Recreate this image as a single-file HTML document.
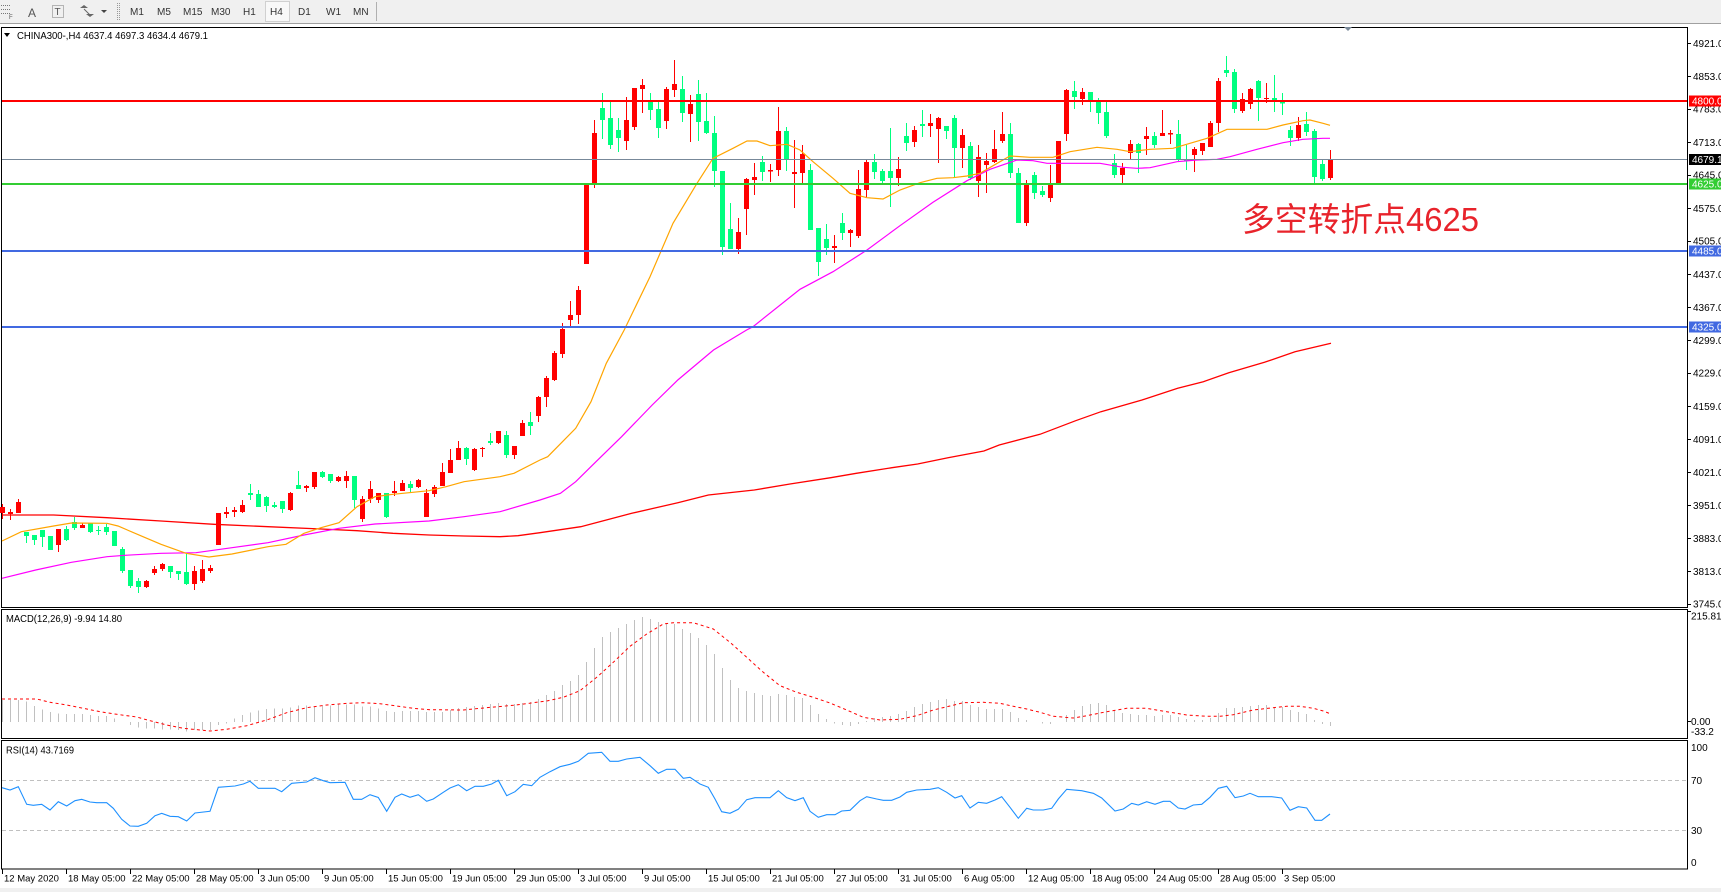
<!DOCTYPE html>
<html><head><meta charset="utf-8"><style>
html,body{margin:0;padding:0;background:#fff;overflow:hidden}
svg{display:block}
</style></head><body>
<svg width="1721" height="892" viewBox="0 0 1721 892" xmlns="http://www.w3.org/2000/svg" font-family="'Liberation Sans', sans-serif">
<!-- toolbar -->
<rect x="0" y="0" width="1721" height="23" fill="#F0F0F0"/>
<line x1="0" y1="23.5" x2="1721" y2="23.5" stroke="#A0A0A0"/>
<g stroke="#777" stroke-dasharray="1,1">
<line x1="1" y1="5.5" x2="10" y2="5.5"/><line x1="1" y1="9.5" x2="10" y2="9.5"/><line x1="1" y1="13.5" x2="10" y2="13.5"/>
</g>
<text x="9" y="19" font-size="6" fill="#555">F</text>
<text x="28" y="17" font-size="12" fill="#555">A</text>
<rect x="52.5" y="5.5" width="11" height="12" fill="none" stroke="#777" stroke-dasharray="1,1"/>
<text x="54.5" y="15" font-size="10" fill="#555">T</text>
<path d="M80 8l4-3 4 3zM86 14l4 3 4-3z" fill="#666"/>
<path d="M84 9l6 6" stroke="#666"/>
<path d="M101 10h6l-3 3z" fill="#444"/>
<line x1="117.5" y1="3" x2="117.5" y2="21" stroke="#999" stroke-dasharray="1,1"/>
<line x1="119.5" y1="3" x2="119.5" y2="21" stroke="#999" stroke-dasharray="1,1"/>
<rect x="265.5" y="1.5" width="24" height="20" fill="#F8F8F8" stroke="#D0D0D0"/>
<g font-size="10" fill="#333">
<text x="130" y="15">M1</text><text x="157" y="15">M5</text><text x="183" y="15">M15</text><text x="211" y="15">M30</text><text x="243" y="15">H1</text><text x="270" y="15">H4</text><text x="298" y="15">D1</text><text x="326" y="15">W1</text><text x="353" y="15">MN</text>
</g>
<line x1="376.5" y1="2" x2="376.5" y2="21" stroke="#B0B0B0"/>

<!-- frames -->
<rect x="1.5" y="27.5" width="1686" height="580" fill="none" stroke="#000"/>
<rect x="1.5" y="609.5" width="1686" height="129" fill="none" stroke="#000"/>
<rect x="1.5" y="740.5" width="1686" height="128.5" fill="none" stroke="#000"/>
<polygon points="1344,27 1352,27 1348,31" fill="#7A8A9A"/>

<!-- title -->
<polygon points="4,33 10,33 7,37" fill="#000"/>
<text x="17" y="39" font-size="10" fill="#000" textLength="191" lengthAdjust="spacingAndGlyphs">CHINA300-,H4  4637.4 4697.3 4634.4 4679.1</text>

<!-- candles -->
<path shape-rendering="crispEdges" fill="#FF0000" d="M2 504h1V519h-1zM0 507h5V513h-5zM10 509h1V520h-1zM8 512h5V514h-5zM18 499h1V513h-1zM16 502h5V513h-5zM58 529h1V552h-1zM56 529h5V545h-5zM82 523h1V528h-1zM80 525h5V528h-5zM146 580h1V588h-1zM144 581h5V587h-5zM154 566h1V575h-1zM152 569h5V573h-5zM162 563h1V571h-1zM160 564h5V569h-5zM194 566h1V590h-1zM192 571h5V584h-5zM202 560h1V583h-1zM200 569h5V581h-5zM210 565h1V573h-1zM208 568h5V571h-5zM216 513h5V545h-5zM226 507h1V518h-1zM224 512h5V514h-5zM234 507h1V517h-1zM232 510h5V512h-5zM242 500h1V513h-1zM240 505h5V512h-5zM290 492h1V511h-1zM288 493h5V510h-5zM306 485h1V492h-1zM304 486h5V488h-5zM314 472h1V489h-1zM312 472h5V487h-5zM338 476h1V482h-1zM336 477h5V481h-5zM346 471h1V488h-1zM344 476h5V481h-5zM362 496h1V522h-1zM360 499h5V519h-5zM370 481h1V503h-1zM368 489h5V499h-5zM378 493h1V503h-1zM376 493h5V500h-5zM394 481h1V496h-1zM392 491h5V493h-5zM402 480h1V491h-1zM400 483h5V491h-5zM418 479h1V488h-1zM416 480h5V487h-5zM426 489h1V517h-1zM424 493h5V517h-5zM434 485h1V497h-1zM432 487h5V494h-5zM442 463h1V486h-1zM440 472h5V486h-5zM450 449h1V473h-1zM448 460h5V473h-5zM458 441h1V460h-1zM456 448h5V460h-5zM474 448h1V471h-1zM472 449h5V470h-5zM482 447h1V457h-1zM480 448h5V449h-5zM498 431h1V444h-1zM496 431h5V443h-5zM514 446h1V459h-1zM512 446h5V455h-5zM522 420h1V436h-1zM520 423h5V436h-5zM538 396h1V422h-1zM536 397h5V416h-5zM546 376h1V407h-1zM544 378h5V397h-5zM554 351h1V381h-1zM552 353h5V380h-5zM562 323h1V358h-1zM560 329h5V354h-5zM570 301h1V326h-1zM568 315h5V320h-5zM578 286h1V324h-1zM576 290h5V315h-5zM584 184h5V264h-5zM594 120h1V188h-1zM592 133h5V184h-5zM626 97h1V150h-1zM624 120h5V141h-5zM634 88h1V130h-1zM632 88h5V127h-5zM642 79h1V113h-1zM640 85h5V89h-5zM666 87h1V129h-1zM664 89h5V121h-5zM674 60h1V97h-1zM672 84h5V90h-5zM690 95h1V142h-1zM688 104h5V114h-5zM738 218h1V254h-1zM736 232h5V249h-5zM746 178h1V235h-1zM744 179h5V209h-5zM754 163h1V195h-1zM752 177h5V180h-5zM770 164h1V182h-1zM768 170h5V171.5h-5zM778 107h1V176h-1zM776 131h5V170h-5zM794 140h1V208h-1zM792 172h5V174h-5zM802 145h1V183h-1zM800 154h5V173h-5zM834 235h1V263h-1zM832 246h5V248h-5zM850 229h1V247h-1zM848 230h5V233h-5zM858 170h1V238h-1zM856 189h5V236h-5zM866 159h1V197h-1zM864 162h5V190h-5zM898 157h1V186h-1zM896 169h5V178h-5zM914 126h1V147h-1zM912 130h5V142h-5zM930 114h1V137h-1zM928 123h5V126h-5zM938 117h1V163h-1zM936 118h5V129h-5zM962 129h1V168h-1zM960 135h5V148h-5zM978 145h1V197h-1zM976 157h5V181h-5zM986 153h1V193h-1zM984 161h5V165h-5zM994 130h1V163h-1zM992 149h5V162h-5zM1002 112h1V143h-1zM1000 134h5V141h-5zM1026 180h1V226h-1zM1024 184h5V223h-5zM1050 165h1V202h-1zM1048 184h5V198h-5zM1056 141h5V183h-5zM1066 89h1V141h-1zM1064 90h5V134h-5zM1082 88h1V105h-1zM1080 92h5V99h-5zM1122 163h1V183h-1zM1120 168h5V175h-5zM1130 140h1V159h-1zM1128 144h5V153h-5zM1146 127h1V155h-1zM1144 136h5V139h-5zM1162 110h1V136h-1zM1160 133h5V136h-5zM1170 130h1V144h-1zM1168 133h5V134.5h-5zM1194 147h1V172h-1zM1192 149h5V155h-5zM1202 143h1V155h-1zM1200 143h5V151h-5zM1210 121h1V147h-1zM1208 123h5V147h-5zM1218 78h1V132h-1zM1216 81h5V123h-5zM1242 93h1V113h-1zM1240 99h5V111h-5zM1250 88h1V109h-1zM1248 89h5V104h-5zM1266 83h1V103h-1zM1264 98h5V99h-5zM1298 117h1V141h-1zM1296 125h5V138h-5zM1330 150h1V180h-1zM1328 159h5V178h-5z"/>
<path shape-rendering="crispEdges" fill="#00FF7F" d="M26 532h1V543h-1zM24 532h5V536h-5zM34 535h1V545h-1zM32 535h5V540h-5zM42 530h1V547h-1zM40 530h5V537h-5zM48 536h5V550h-5zM66 526h1V541h-1zM64 529h5V540h-5zM74 517h1V530h-1zM72 522h5V528h-5zM90 523h1V533h-1zM88 523h5V532h-5zM98 526h1V535h-1zM96 530h5V531h-5zM106 524h1V535h-1zM104 527h5V532h-5zM112 531h5V546h-5zM122 547h1V573h-1zM120 549h5V571h-5zM130 570h1V588h-1zM128 570h5V586h-5zM138 578h1V593h-1zM136 581h5V587h-5zM170 566h1V578h-1zM168 566h5V572h-5zM178 571h1V580h-1zM176 571h5V574h-5zM186 553h1V585h-1zM184 572h5V584h-5zM250 484h1V500h-1zM248 493h5V495h-5zM258 490h1V507h-1zM256 494h5V507h-5zM266 496h1V512h-1zM264 497h5V506h-5zM274 502h1V508h-1zM272 505h5V507h-5zM282 501h1V513h-1zM280 501h5V509h-5zM298 471h1V489h-1zM296 485h5V489h-5zM322 471h1V478h-1zM320 472h5V477h-5zM330 474h1V483h-1zM328 474h5V481h-5zM354 476h1V508h-1zM352 476h5V500h-5zM386 493h1V518h-1zM384 493h5V517h-5zM410 481h1V492h-1zM408 484h5V488h-5zM466 447h1V465h-1zM464 448h5V459h-5zM490 433h1V445h-1zM488 441h5V443h-5zM506 431h1V458h-1zM504 435h5V455h-5zM530 412h1V435h-1zM528 422h5V426h-5zM602 93h1V139h-1zM600 108h5V120h-5zM610 102h1V149h-1zM608 118h5V145h-5zM618 118h1V152h-1zM616 130h5V138h-5zM650 93h1V120h-1zM648 102h5V110h-5zM658 102h1V138h-1zM656 109h5V128h-5zM682 76h1V122h-1zM680 89h5V113h-5zM698 80h1V141h-1zM696 94h5V122h-5zM706 93h1V134h-1zM704 121h5V133h-5zM714 116h1V187h-1zM712 133h5V171h-5zM722 171h1V255h-1zM720 171h5V247h-5zM730 203h1V249h-1zM728 229h5V249h-5zM762 156h1V181h-1zM760 162h5V172h-5zM786 127h1V171h-1zM784 131h5V159h-5zM810 164h1V230h-1zM808 170h5V230h-5zM818 228h1V276h-1zM816 228h5V262h-5zM826 224h1V255h-1zM824 239h5V248h-5zM842 213h1V240h-1zM840 223h5V233h-5zM874 154h1V179h-1zM872 162h5V172h-5zM882 169h1V183h-1zM880 171h5V181h-5zM890 128h1V207h-1zM888 171h5V178h-5zM906 123h1V151h-1zM904 136h5V143h-5zM922 110h1V137h-1zM920 124h5V126h-5zM946 126h1V139h-1zM944 126h5V131h-5zM954 115h1V178h-1zM952 118h5V148h-5zM970 142h1V180h-1zM968 146h5V178h-5zM1010 123h1V178h-1zM1008 134h5V173h-5zM1018 168h1V223h-1zM1016 173h5V223h-5zM1034 172h1V199h-1zM1032 175h5V193h-5zM1042 186h1V197h-1zM1040 191h5V195h-5zM1074 81h1V109h-1zM1072 91h5V97h-5zM1090 92h1V112h-1zM1088 92h5V100h-5zM1098 98h1V124h-1zM1096 101h5V113h-5zM1106 102h1V138h-1zM1104 112h5V136h-5zM1114 154h1V178h-1zM1112 163h5V175h-5zM1138 143h1V173h-1zM1136 144h5V153h-5zM1154 132h1V148h-1zM1152 136h5V145h-5zM1178 120h1V161h-1zM1176 134h5V160h-5zM1186 145h1V170h-1zM1184 159h5V161h-5zM1226 56h1V77h-1zM1224 70h5V73h-5zM1234 69h1V113h-1zM1232 72h5V109h-5zM1258 80h1V121h-1zM1256 81h5V98h-5zM1274 75h1V112h-1zM1272 98h5V100h-5zM1282 93h1V115h-1zM1280 102h5V103.5h-5zM1290 126h1V146h-1zM1288 130h5V138h-5zM1306 112h1V136h-1zM1304 124h5V132h-5zM1314 129h1V183h-1zM1312 131h5V177h-5zM1322 159h1V181h-1zM1320 164h5V179h-5z"/>

<!-- moving averages -->
<polyline fill="none" stroke="#FF0000" stroke-width="1.3" points="2,515 53.6,515 107,517.7 161,521 214,524.3 268,526.7 321,529 357,530.7 393,533.3 429,535 464,536 500,536.7 518,535.7 540,532.7 580.8,526.7 631.8,513.3 677.8,502.7 708.4,495 754.3,490 790,484 830.8,477.7 856.3,473.3 892,467.7 917.6,464 948,457.7 983.9,451 999.2,445 1040,434.3 1075.7,420.7 1101,411.7 1142,400 1177.7,388.3 1203.3,381.7 1228.8,372.7 1264.5,362.3 1295,351.7 1331,343.3"/>
<polyline fill="none" stroke="#FF00FF" stroke-width="1.2" points="2,578.3 35.7,570 71.4,562.3 107,556.7 125,555.3 161,553.3 196,552.7 232,547.7 268,542.7 304,535 339,528.3 375,524 429,521 464,516.7 500,511.7 540,500 560.4,493.3 575.7,481.7 596,461.7 621.6,436.7 652.2,405 677.8,380 713.5,350 746.6,330 753,326.7 800,289.3 833,271.7 867,250 900,225.7 933,202.3 967,180.7 990,169.3 1017,160 1033,160.7 1047,163.3 1100,163.3 1123,167.3 1137,168.3 1150,167.7 1177,161.7 1197,160 1217,159.3 1230,156.7 1257,149.3 1283,142.7 1303,139.3 1323,138.3 1330,138.3"/>
<polyline fill="none" stroke="#FFA500" stroke-width="1.2" points="2,541 21.4,531.7 53.6,526 71.4,523 107,523.3 118,526 143,536.7 161,544.3 186,553.3 209,557 232,554 268,546.7 286,544.3 304,533.3 321,527.7 339,522.7 357,506.7 375,496.7 393,494.3 429,490.7 446,486.7 464,481.7 500,476.7 514,473.3 540,460 547.7,456.7 575.7,428.3 591,401.7 606.3,363.3 624.2,330 650,276.7 673,223.3 697,183.3 713,158.3 733,148.3 747,141 757,141 770,145.7 787,144.3 800,150 813,161.7 833,178.3 850,193.3 867,197.7 883,199 900,190 920,182.7 937,178.3 953,177.7 967,176 980,173.3 1000,161.7 1010,156 1030,157.3 1053,157.3 1070,151.7 1097,147.3 1117,149.3 1130,151.7 1150,149.3 1173,148.3 1190,143.3 1207,138.3 1227,129.3 1267,129.3 1283,125 1303,120.7 1310,120 1323,123.3 1330,125.3"/>

<!-- horizontal levels -->
<g shape-rendering="crispEdges">
<rect x="2" y="100" width="1685" height="2" fill="#FF0000"/>
<rect x="2" y="159" width="1685" height="1" fill="#778899"/>
<rect x="2" y="183" width="1685" height="2" fill="#32CD32"/>
<rect x="2" y="250" width="1685" height="2" fill="#4169E1"/>
<rect x="2" y="326" width="1685" height="2" fill="#4169E1"/>
</g>

<!-- price axis -->
<g stroke="#000" shape-rendering="crispEdges">
<path d="M1687 43.5h4M1687 76.5h4M1687 109.5h4M1687 142.5h4M1687 175.5h4M1687 208.5h4M1687 241.5h4M1687 274.5h4M1687 307.5h4M1687 340.5h4M1687 373.5h4M1687 406.5h4M1687 439.5h4M1687 472.5h4M1687 505.5h4M1687 538.5h4M1687 571.5h4M1687 604.5h4M1687 721.5h4M1687 611.5h4"/>
</g>
<g font-size="10" fill="#000">
<text x="1693" y="47">4921.0</text>
<text x="1693" y="80">4853.0</text>
<text x="1693" y="112.5">4783.0</text>
<text x="1693" y="146">4713.0</text>
<text x="1693" y="178.5">4645.0</text>
<text x="1693" y="212">4575.0</text>
<text x="1693" y="244.5">4505.0</text>
<text x="1693" y="278">4437.0</text>
<text x="1693" y="311">4367.0</text>
<text x="1693" y="344">4299.0</text>
<text x="1693" y="376.5">4229.0</text>
<text x="1693" y="410">4159.0</text>
<text x="1693" y="443">4091.0</text>
<text x="1693" y="476">4021.0</text>
<text x="1693" y="509">3951.0</text>
<text x="1693" y="542">3883.0</text>
<text x="1693" y="575">3813.0</text>
<text x="1693" y="607.5">3745.0</text>
</g>
<g shape-rendering="crispEdges">
<rect x="1689" y="95.5" width="32" height="11" fill="#FF0000"/>
<rect x="1689" y="154" width="32" height="11" fill="#000"/>
<rect x="1689" y="178.5" width="32" height="11" fill="#32CD32"/>
<rect x="1689" y="245.5" width="32" height="11" fill="#4169E1"/>
<rect x="1689" y="321.5" width="32" height="11" fill="#4169E1"/>
</g>
<g font-size="10" fill="#fff">
<text x="1692" y="104.5">4800.0</text>
<text x="1692" y="163">4679.1</text>
<text x="1692" y="187.5">4625.0</text>
<text x="1692" y="254.5">4485.0</text>
<text x="1692" y="330.5">4325.0</text>
</g>

<!-- annotation -->
<text x="1242" y="231" font-size="33" fill="#E8232B" font-family="'Liberation Sans','Noto Sans CJK SC',sans-serif" textLength="237" lengthAdjust="spacingAndGlyphs">多空转折点4625</text>

<!-- MACD -->
<text x="6" y="622" font-size="10" fill="#000" textLength="116" lengthAdjust="spacingAndGlyphs">MACD(12,26,9) -9.94 14.80</text>
<path fill="none" stroke="#C0C0C0" stroke-width="1" shape-rendering="crispEdges" d="M2.5 700V722M10.5 700V722M18.5 700V722M26.5 701.7V722M34.5 706V722M42.5 709.3V722M50.5 712V722M58.5 713.3V722M66.5 714V722M74.5 714V722M82.5 714V722M90.5 715V722M98.5 716V722M106.5 716V722M114.5 718.3V722M130.5 725V722M138.5 727.3V722M146.5 728.7V722M154.5 728.7V722M162.5 729.3V722M170.5 729.3V722M178.5 730V722M186.5 731.3V722M194.5 730V722M202.5 730V722M210.5 730V722M218.5 725V722M226.5 723.3V722M234.5 718.3V722M242.5 715V722M250.5 712.7V722M258.5 710.7V722M266.5 709V722M274.5 708.3V722M282.5 708.3V722M290.5 707.3V722M298.5 705.3V722M306.5 705.3V722M314.5 706.7V722M322.5 705.3V722M330.5 705.3V722M338.5 704.7V722M346.5 704.7V722M354.5 704.7V722M362.5 706.7V722M370.5 706.7V722M378.5 708.3V722M386.5 711V722M394.5 712V722M402.5 711V722M410.5 711V722M418.5 711V722M426.5 712V722M434.5 712V722M442.5 712V722M450.5 710V722M458.5 708V722M466.5 707V722M474.5 706V722M482.5 705V722M490.5 704V722M498.5 703V722M506.5 704V722M514.5 704V722M522.5 703V722M530.5 702V722M538.5 699V722M546.5 695V722M554.5 691V722M562.5 685V722M570.5 681V722M578.5 675V722M586.5 662V722M594.5 648V722M602.5 637V722M610.5 632V722M618.5 628V722M626.5 624V722M634.5 620V722M642.5 617V722M650.5 619V722M658.5 622V722M666.5 623V722M674.5 624V722M682.5 629V722M690.5 633V722M698.5 638V722M706.5 645V722M714.5 654V722M722.5 668V722M730.5 680V722M738.5 688V722M746.5 691V722M754.5 693V722M762.5 695V722M770.5 696V722M778.5 694V722M786.5 695V722M794.5 697V722M802.5 698V722M810.5 705V722M818.5 714V722M826.5 719V722M834.5 723.5V722M842.5 725V722M850.5 726V722M858.5 724V722M866.5 721V722M874.5 718V722M882.5 717V722M890.5 716V722M898.5 714V722M906.5 711V722M914.5 707V722M922.5 704V722M930.5 702V722M938.5 700V722M946.5 699V722M954.5 701V722M962.5 701V722M970.5 705V722M978.5 707V722M986.5 709V722M994.5 709V722M1002.5 709V722M1010.5 712V722M1018.5 718V722M1026.5 720V722M1042.5 723.5V722M1050.5 724V722M1066.5 715V722M1074.5 710V722M1082.5 706V722M1090.5 704V722M1098.5 703V722M1106.5 705V722M1114.5 710V722M1122.5 713V722M1130.5 714V722M1138.5 715V722M1146.5 715V722M1154.5 716V722M1162.5 715V722M1170.5 715V722M1178.5 717V722M1186.5 719V722M1194.5 720V722M1202.5 720V722M1210.5 718V722M1218.5 713V722M1226.5 708V722M1234.5 708V722M1242.5 707V722M1250.5 706V722M1258.5 705V722M1266.5 705V722M1274.5 707V722M1282.5 707V722M1290.5 710V722M1298.5 712V722M1306.5 714V722M1314.5 720V722M1322.5 724V722M1330.5 726V722"/>
<polyline fill="none" stroke="#FF0000" stroke-width="1" stroke-dasharray="3,3" points="2,699 36.7,699 50,702.3 66.7,705 83.3,708.3 100,711.7 116.7,714.3 136.7,717 150,720.7 166.7,725 183.3,728.3 200,730 210,731 226.7,729.3 246.7,725.7 266.7,720 286.7,712.7 306.7,707.7 326.7,705 346.7,703.3 363.3,702.7 380,703.7 413.3,708.3 430,709.7 463.3,710 480,708.3 513.3,705.3 546.7,701 563.3,697.3 580,690.7 596.7,677.3 613.3,662.3 630,646.3 646.7,634 663.3,624 673.3,622.7 693.3,622.7 713.3,629 730,642.3 746.7,657.3 763.3,672.3 780,685.7 796.7,692.3 813.3,697.3 830,703 846.7,710 863.3,717.3 880,720 900,719.3 916.7,715.7 933.3,710 950,706 963.3,702.7 983.3,702.3 1000,703.3 1013.3,706.3 1026.7,709 1040,712.3 1053.3,716.3 1073.3,718 1086.7,715.7 1106.7,711.7 1126.7,708.3 1146.7,708.3 1166.7,711.7 1186.7,715 1206.7,716.3 1220,716.3 1233.3,714.7 1253.3,710 1273.3,707.7 1286.7,706.3 1300,706.3 1313.3,708.3 1323.3,711 1330,713.7"/>
<g font-size="10" fill="#000">
<text x="1691" y="619.5">215.81</text>
<text x="1691" y="725">0.00</text>
<text x="1691" y="735">-33.2</text>
</g>

<!-- RSI -->
<text x="6" y="753.5" font-size="10" fill="#000" textLength="68" lengthAdjust="spacingAndGlyphs">RSI(14) 43.7169</text>
<line x1="2" y1="780.5" x2="1687" y2="780.5" stroke="#C0C0C0" stroke-dasharray="4,3"/>
<line x1="2" y1="830.5" x2="1687" y2="830.5" stroke="#C0C0C0" stroke-dasharray="4,3"/>
<polyline fill="none" stroke="#1E90FF" stroke-width="1.1" points="2,787.7 10,790 18.3,786.7 26.7,804.3 33.3,805.3 41.7,804.3 50,810 58.3,801.7 66.7,806 75,800.7 81.7,799.3 90,802 96.7,802.7 106.7,802.7 113.3,808.3 121.7,819.3 130,826 138.3,826.3 146.7,823.3 155,815.7 161.7,813.3 170,816.3 178.3,816.7 186.7,821 195,813 210,811.3 218.3,787.3 235,786 243.3,784 250,781.3 258.3,788.3 275,788.3 281.7,791.7 291.7,783.3 306.7,782 315,777.7 323.3,780.7 330,782.7 345,782.3 353.3,799.3 361.7,799.3 370,794.7 378.3,797.5 386.7,811.3 395,797.3 401.7,794 410,797.3 418.3,794.7 426.7,801.3 433.3,799 443.3,792.3 450,788 458.3,784.7 466.7,790.7 475,786.3 483.3,786.3 491.7,784 498.3,780.3 506.7,795.7 515,791.7 523.3,784.3 531.7,785.7 540,777.3 550,771.7 560,766.7 570,764.3 578.3,761.3 588.3,753.3 601.7,752.3 610,761.3 618.3,761.3 626.7,759 640,757.3 650,765.7 658.3,773.3 666.7,769.3 675,769.3 683.3,778.3 690,777.3 700,784 708.3,787.3 715,799 721.7,811.7 730,813.3 738.3,809.3 746.7,799.7 755,797.7 770,797.7 778.3,790.7 786.7,797.7 795,800.7 803.3,797.7 810,811.3 818.3,817.3 826.7,814.7 835,814.7 841.7,811 850,810.3 860,800.7 866.7,796.7 876.7,799 883.3,800.3 891.7,800.3 900,797 906.7,792.3 916.7,790 930,789.3 938.3,787.7 946.7,792.3 955,798 961.7,795.7 970,808 978.3,802.3 986.7,803.3 995,800 1001.7,796.7 1010,807.3 1018.3,818.3 1026.7,808.3 1033.3,810 1043.3,810 1051.7,808.3 1058.3,799 1066.7,789.3 1081.7,790.7 1093.3,793.3 1101.7,798 1115,811 1123.3,809 1131.7,803.3 1138.3,805 1146.7,801.7 1155,804.3 1163.3,801.3 1170,801.3 1178.3,808 1185,809 1193.3,805 1201.7,804.3 1210,797.3 1218.3,788.3 1226.7,786.3 1235,797.7 1243.3,796 1250,793.3 1258.3,796.7 1271.7,796.7 1281.7,798 1290,810.3 1298.3,806.7 1306.7,808 1315,820.3 1321.7,820.3 1330,814"/>
<g font-size="10" fill="#000">
<text x="1691" y="751">100</text>
<text x="1691" y="784">70</text>
<text x="1691" y="834">30</text>
<text x="1691" y="866">0</text>
</g>

<!-- time axis -->
<path stroke="#000" shape-rendering="crispEdges" d="M2.5 869V874M66.5 869V874M130.5 869V874M194.5 869V874M258.5 869V874M322.5 869V874M386.5 869V874M450.5 869V874M514.5 869V874M578.5 869V874M642.5 869V874M706.5 869V874M770.5 869V874M834.5 869V874M898.5 869V874M962.5 869V874M1026.5 869V874M1090.5 869V874M1154.5 869V874M1218.5 869V874M1282.5 869V874"/>
<g font-size="9.5" fill="#000">
<text x="4" y="881.5">12 May 2020</text>
<text x="68" y="881.5">18 May 05:00</text>
<text x="132" y="881.5">22 May 05:00</text>
<text x="196" y="881.5">28 May 05:00</text>
<text x="260" y="881.5">3 Jun 05:00</text>
<text x="324" y="881.5">9 Jun 05:00</text>
<text x="388" y="881.5">15 Jun 05:00</text>
<text x="452" y="881.5">19 Jun 05:00</text>
<text x="516" y="881.5">29 Jun 05:00</text>
<text x="580" y="881.5">3 Jul 05:00</text>
<text x="644" y="881.5">9 Jul 05:00</text>
<text x="708" y="881.5">15 Jul 05:00</text>
<text x="772" y="881.5">21 Jul 05:00</text>
<text x="836" y="881.5">27 Jul 05:00</text>
<text x="900" y="881.5">31 Jul 05:00</text>
<text x="964" y="881.5">6 Aug 05:00</text>
<text x="1028" y="881.5">12 Aug 05:00</text>
<text x="1092" y="881.5">18 Aug 05:00</text>
<text x="1156" y="881.5">24 Aug 05:00</text>
<text x="1220" y="881.5">28 Aug 05:00</text>
<text x="1284" y="881.5">3 Sep 05:00</text>
</g>
<rect x="0" y="888" width="1721" height="4" fill="#F0F0F0"/>
</svg>
</body></html>
